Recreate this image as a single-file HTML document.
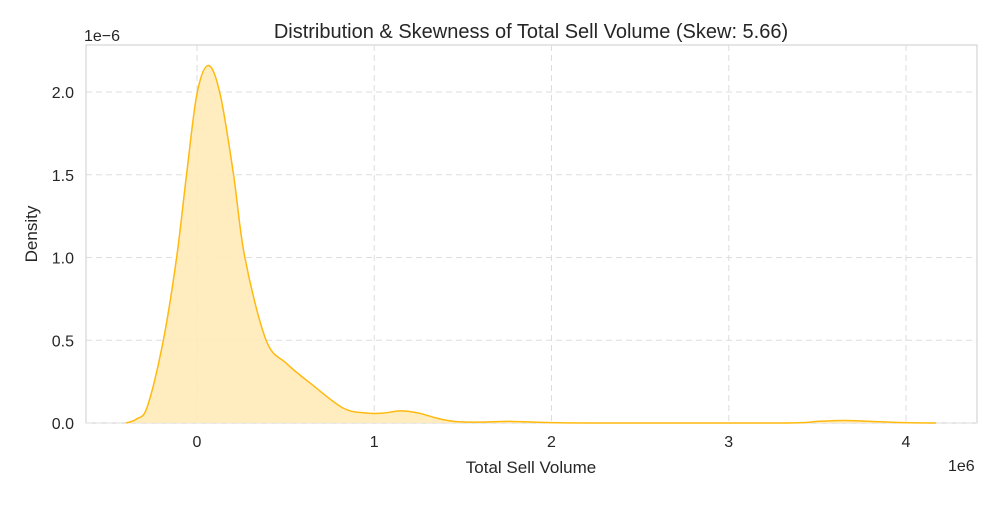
<!DOCTYPE html>
<html><head><meta charset="utf-8"><style>
body{margin:0;background:#fff;font-family:"Liberation Sans",Arial,sans-serif}
svg text{font-family:"Liberation Sans",Arial,sans-serif;fill:#262626}
</style></head><body>
<svg id="chart" width="1000" height="500">
<rect x="86" y="45" width="891" height="378" fill="#fff" stroke="#ccc"/>
<g id="grid"></g><g id="marks"></g><g id="axes"></g>
<text x="531" y="38" font-size="20" text-anchor="middle">Distribution &amp; Skewness of Total Sell Volume (Skew: 5.66)</text>
<text x="531" y="473" font-size="17" text-anchor="middle">Total Sell Volume</text>
<text x="37" y="234" font-size="17" text-anchor="middle" transform="rotate(-90 37 234)">Density</text>
<text x="84" y="41" font-size="16">1e−6</text>
<text x="948" y="471" font-size="16">1e6</text>
</svg>
<script>
const xTicks=[0,1,2,3,4];
const yTicks=[0,0.5,1.0,1.5,2.0];
const yTickLabels=["0.0","0.5","1.0","1.5","2.0"];
const kdeX=[-0.4,-0.34,-0.28,-0.19,-0.115,-0.058,0,0.064,0.13,0.205,0.27,0.39,0.505,0.64,0.825,0.96,1.05,1.15,1.25,1.35,1.45,1.6,1.75,1.9,2.2,3.3,3.5,3.65,3.8,4.0,4.17];
const kdeY=[0,0.025,0.1,0.5,1.0,1.51,1.99,2.16,1.99,1.51,1.0,0.5,0.36,0.24,0.09,0.06,0.06,0.073,0.06,0.03,0.01,0.005,0.01,0.005,0,0,0.01,0.015,0.01,0.002,0];
const X=v=>197+v*177.25, Y=v=>423-v*165.5;
const NS="http://www.w3.org/2000/svg";
function mk(t,a,p){const e=document.createElementNS(NS,t);for(const k in a)e.setAttribute(k,a[k]);p.appendChild(e);return e;}
const grid=document.getElementById('grid'),axes=document.getElementById('axes'),marks=document.getElementById('marks');
xTicks.forEach(t=>{
 const l=mk('line',{x1:X(t),x2:X(t),y1:45,y2:423,stroke:'#ddd','stroke-dasharray':'6,4'},grid);
 
 
 const tx=mk('text',{x:X(t),y:447,'font-size':16,'text-anchor':'middle'},axes);tx.textContent=t;
 
 
});
yTicks.forEach((t,i)=>{
 const l=mk('line',{x1:86,x2:977,y1:Y(t),y2:Y(t),stroke:'#ddd','stroke-dasharray':'6,4'},grid);
 
 
 const tx=mk('text',{x:74,y:Y(t)+6,'font-size':16,'text-anchor':'end'},axes);tx.textContent=yTickLabels[i];
 
 
});
const pts=kdeX.map((v,i)=>[X(v),Y(kdeY[i])]);
let d='M'+pts[0][0]+','+pts[0][1];
for(let i=0;i<pts.length-1;i++){
 const p0=pts[Math.max(0,i-1)],p1=pts[i],p2=pts[i+1],p3=pts[Math.min(pts.length-1,i+2)];
 const c1=[p1[0]+(p2[0]-p0[0])/6,p1[1]+(p2[1]-p0[1])/6],c2=[p2[0]-(p3[0]-p1[0])/6,p2[1]-(p3[1]-p1[1])/6];
 d+=` C${c1[0]},${Math.min(423,c1[1])} ${c2[0]},${Math.min(423,c2[1])} ${p2[0]},${p2[1]}`;
}
const area=mk('path',{d:d+` L${pts[pts.length-1][0]},423 L${pts[0][0]},423 Z`,fill:'#ffeab8',stroke:'none','fill-opacity':0.9},marks);


const line=mk('path',{d:d,fill:'none',stroke:'#ffb90f','stroke-width':1.5},marks);


</script>
</body></html>
